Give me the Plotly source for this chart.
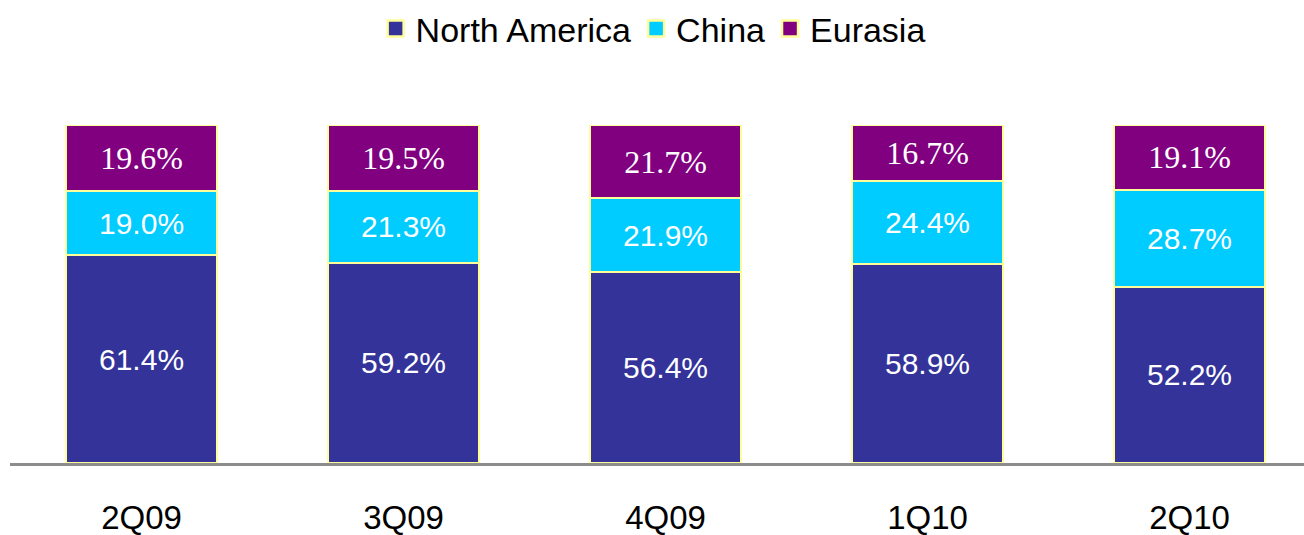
import plotly.graph_objects as go

quarters = ["2Q09", "3Q09", "4Q09", "1Q10", "2Q10"]
north_america = [61.4, 59.2, 56.4, 58.9, 52.2]
china = [19.0, 21.3, 21.9, 24.4, 28.7]
eurasia = [19.6, 19.5, 21.7, 16.7, 19.1]
series_names = ["North America", "China", "Eurasia"]

colors = {"North America": "#333399", "China": "#00CCFF", "Eurasia": "#800080"}
border = "#FFFF99"
sans = "Liberation Sans, Arial, sans-serif"
serif = "Liberation Serif, Times New Roman, serif"

fig = go.Figure()
for name, vals, fam, size in [
    ("North America", north_america, sans, 30),
    ("China", china, sans, 30),
    ("Eurasia", eurasia, serif, 32),
]:
    fig.add_trace(go.Bar(
        x=quarters, y=vals, name=name,
        marker=dict(color=colors[name], line=dict(color=border, width=2)),
        width=0.575,
        texttemplate="%{y:.1f}%",
        textposition="inside",
        insidetextanchor="middle",
        textangle=0,
        textfont=dict(family=fam, size=size, color="white"),
        hoverinfo="skip",
        showlegend=False,
    ))

# legend entries with larger square markers
for name in series_names:
    fig.add_trace(go.Scatter(
        x=[None], y=[None], mode="markers", name=name,
        marker=dict(symbol="square", size=16, color=colors[name],
                    line=dict(color=border, width=2.5)),
        showlegend=True, hoverinfo="skip",
    ))

fig.update_layout(
    width=1304, height=535,
    barmode="stack",
    plot_bgcolor="white", paper_bgcolor="white",
    margin=dict(l=10, r=0, t=125, b=72),
    showlegend=True,
    legend=dict(
        orientation="h", x=0.497, xanchor="center",
        yref="container", y=1.0, yanchor="top",
        font=dict(family=sans, size=34, color="black"),
        traceorder="normal", itemsizing="trace",
    ),
    font=dict(family=sans, color="black"),
)
fig.update_xaxes(
    range=[-0.502, 4.437],
    showline=True, linecolor="#8C8C8C", linewidth=3,
    showgrid=False, zeroline=False, automargin=False,
    ticks="outside", ticklen=23, tickcolor="rgba(0,0,0,0)",
    tickfont=dict(family=sans, size=33, color="black"),
)
fig.update_yaxes(range=[0, 100], visible=False, showgrid=False, zeroline=False,
                 automargin=False)

fig.write_html("out.html", config={"displayModeBar": False},
               post_script="document.body.style.margin='0px';")
